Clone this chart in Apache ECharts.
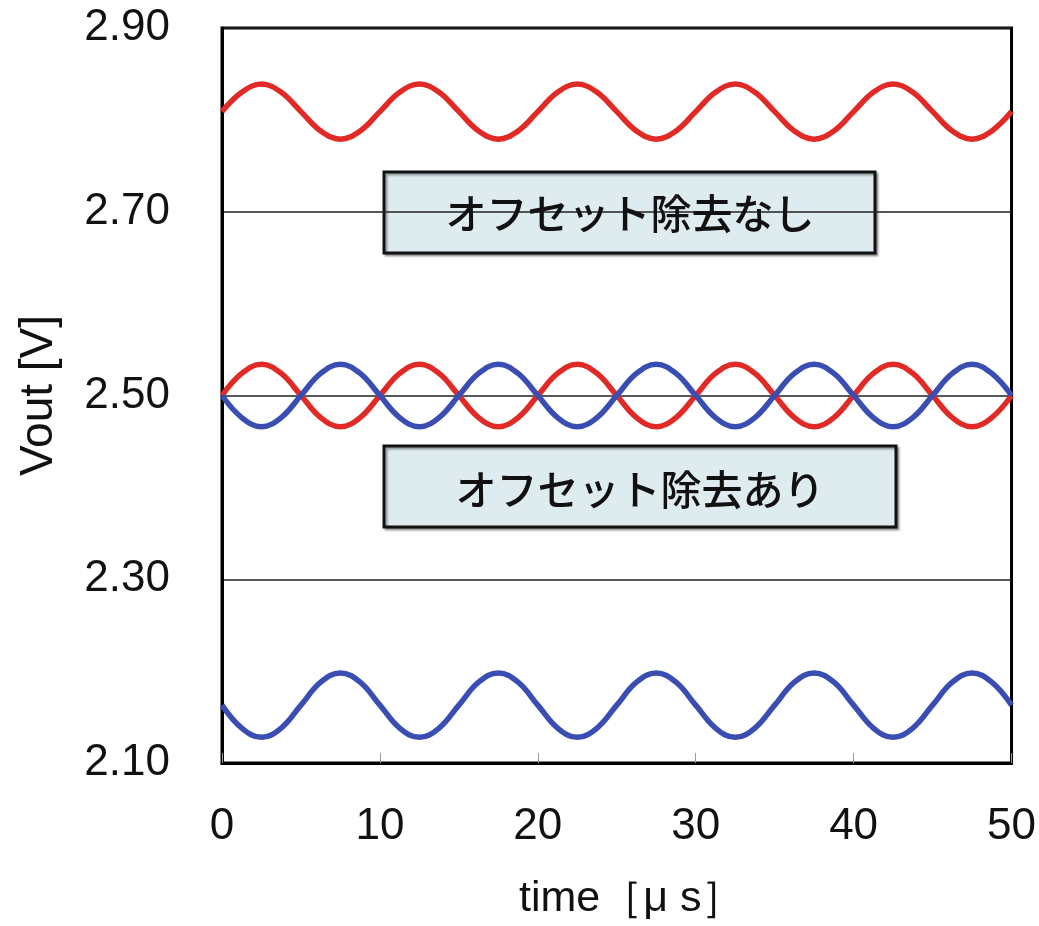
<!DOCTYPE html>
<html>
<head>
<meta charset="utf-8">
<script src="https://cdn.jsdelivr.net/npm/echarts@6/dist/echarts.min.js"></script>
<style>
html,body{margin:0;padding:0;background:#fff;}
#c{width:1039px;height:926px;}
</style>
</head>
<body>
<div id="c"></div>
<script>
// time [µs], sampled every 1.25 µs
var time = [0,1.25,2.5,3.75,5,6.25,7.5,8.75,10,11.25,12.5,13.75,15,16.25,17.5,18.75,20,21.25,22.5,23.75,25,26.25,27.5,28.75,30,31.25,32.5,33.75,35,36.25,37.5,38.75,40,41.25,42.5,43.75,45,46.25,47.5,48.75,50];

// オフセット除去なし (red, upper)
var redNoOffset = [2.809,2.830,2.839,2.830,2.809,2.788,2.779,2.788,
                   2.809,2.830,2.839,2.830,2.809,2.788,2.779,2.788,
                   2.809,2.830,2.839,2.830,2.809,2.788,2.779,2.788,
                   2.809,2.830,2.839,2.830,2.809,2.788,2.779,2.788,
                   2.809,2.830,2.839,2.830,2.809,2.788,2.779,2.788,2.809];
// オフセット除去なし (blue, lower)
var blueNoOffset = [2.163,2.138,2.128,2.138,2.163,2.188,2.198,2.188,
                    2.163,2.138,2.128,2.138,2.163,2.188,2.198,2.188,
                    2.163,2.138,2.128,2.138,2.163,2.188,2.198,2.188,
                    2.163,2.138,2.128,2.138,2.163,2.188,2.198,2.188,
                    2.163,2.138,2.128,2.138,2.163,2.188,2.198,2.188,2.163];
// オフセット除去あり (red)
var redOffset = [2.500,2.524,2.534,2.524,2.500,2.476,2.466,2.476,
                 2.500,2.524,2.534,2.524,2.500,2.476,2.466,2.476,
                 2.500,2.524,2.534,2.524,2.500,2.476,2.466,2.476,
                 2.500,2.524,2.534,2.524,2.500,2.476,2.466,2.476,
                 2.500,2.524,2.534,2.524,2.500,2.476,2.466,2.476,2.500];
// オフセット除去あり (blue)
var blueOffset = [2.500,2.476,2.466,2.476,2.500,2.524,2.534,2.524,
                  2.500,2.476,2.466,2.476,2.500,2.524,2.534,2.524,
                  2.500,2.476,2.466,2.476,2.500,2.524,2.534,2.524,
                  2.500,2.476,2.466,2.476,2.500,2.524,2.534,2.524,
                  2.500,2.476,2.466,2.476,2.500,2.524,2.534,2.524,2.500];

var xTicks = [0,10,20,30,40,50];
var yTicks = [2.10,2.30,2.50,2.70,2.90];
var labelNoOffset = 'オフセット除去なし';
var labelOffset = 'オフセット除去あり';

function pairs(xs, ys){ return xs.map(function(x,i){ return [x, ys[i]]; }); }

var RED = '#e12a26', BLUE = '#3a4db2';
var fontLat = '"Liberation Sans", Arial, Helvetica, sans-serif';
var fontJP = '"Noto Sans CJK JP", sans-serif';

function lineSeries(name, ys, color){
  return {
    name: name, type: 'line', data: pairs(time, ys), smooth: 0.4,
    showSymbol: false, symbol: 'none', z: 3,
    lineStyle: { color: color, width: 5.5 }
  };
}

var chart = echarts.init(document.getElementById('c'), null, {renderer: 'canvas'});
chart.setOption({
  backgroundColor: '#ffffff',
  animation: false,
  grid: { left: 222, right: 22, top: 28, bottom: 162, show: true, borderColor: '#000', borderWidth: 3, backgroundColor: 'transparent' },
  xAxis: {
    type: 'value', min: xTicks[0], max: xTicks[xTicks.length-1], interval: 10,
    name: 'time［μ s］', nameLocation: 'middle', nameGap: 115,
    nameTextStyle: { fontSize: 43, color: '#111', fontFamily: fontLat, padding: [0, 0, 0, 30] },
    axisLine: { show: true, lineStyle: { color: '#000', width: 3 } },
    axisTick: { show: true, inside: true, length: 10, lineStyle: { color: '#999', width: 1 } },
    axisLabel: { fontSize: 44, color: '#111', margin: 42, fontFamily: fontLat },
    splitLine: { show: false }
  },
  yAxis: {
    type: 'value', min: yTicks[0], max: yTicks[yTicks.length-1], interval: 0.2,
    name: 'Vout [V]', nameLocation: 'middle', nameGap: 160, nameRotate: 90,
    nameTextStyle: { fontSize: 46, color: '#111', fontFamily: fontLat },
    axisLine: { show: true, lineStyle: { color: '#000', width: 3 } },
    axisTick: { show: false },
    axisLabel: { fontSize: 44, color: '#111', margin: 52, fontFamily: fontLat,
      formatter: function(v){ return v.toFixed(2); } },
    splitLine: { show: true, lineStyle: { color: '#222', width: 1.5 } }
  },
  graphic: [
    { type: 'rect', z: -10, shape: { x: 384, y: 172, width: 491, height: 81 },
      style: { fill: '#deebef', stroke: '#111', lineWidth: 3, shadowBlur: 2, shadowOffsetX: 2, shadowOffsetY: 2, shadowColor: 'rgba(0,0,0,0.35)' } },
    { type: 'text', z: 10, x: 630, y: 213,
      style: { text: labelNoOffset, font: '500 41px ' + fontJP, fill: '#111', align: 'center', verticalAlign: 'middle' } },
    { type: 'rect', z: -10, shape: { x: 384, y: 446, width: 512, height: 81 },
      style: { fill: '#deebef', stroke: '#111', lineWidth: 3, shadowBlur: 2, shadowOffsetX: 2, shadowOffsetY: 2, shadowColor: 'rgba(0,0,0,0.35)' } },
    { type: 'text', z: 10, x: 640, y: 489,
      style: { text: labelOffset, font: '500 41px ' + fontJP, fill: '#111', align: 'center', verticalAlign: 'middle' } }
  ],
  series: [
    lineSeries('blueNoOffset', blueNoOffset, BLUE),
    lineSeries('redNoOffset', redNoOffset, RED),
    lineSeries('redOffset', redOffset, RED),
    lineSeries('blueOffset', blueOffset, BLUE)
  ]
});
</script>
</body>
</html>
